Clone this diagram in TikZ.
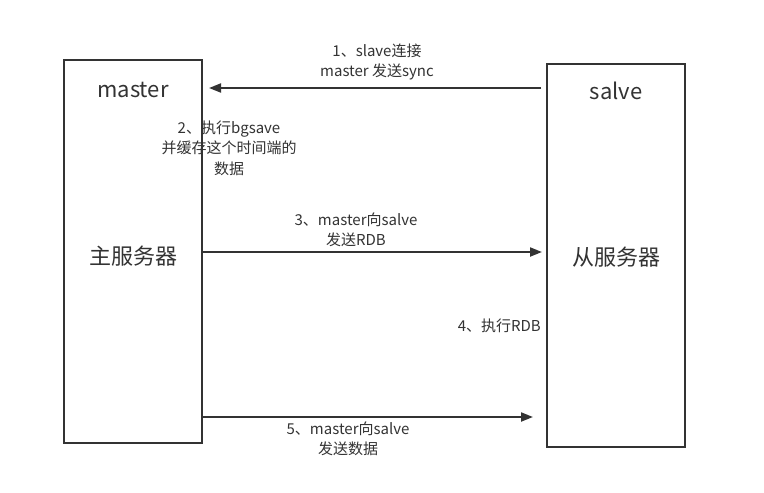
\documentclass[tikz,border=0pt]{standalone}
\usepackage{fontspec}
\setmainfont{Noto Sans CJK SC}
\usetikzlibrary{arrows.meta}
\definecolor{ink}{HTML}{333333}
\begin{document}
\begin{tikzpicture}[x=1pt,y=-1pt,
  box/.style={draw=ink,line width=2pt,inner sep=0pt},
  conn/.style={draw=ink,line width=2pt,-{Triangle[length=12pt,width=9pt]}},
  lbl/.style={text=ink,font=\fontsize{15}{20.5}\selectfont,align=center,inner sep=0pt},
  ttl/.style={text=ink,font=\fontsize{22}{26}\selectfont,inner sep=0pt}]
\useasboundingbox[fill=white] (0,0) rectangle (764,493);
\draw[box] (64,60) rectangle (202,443);
\draw[box] (547,64) rectangle (685,447);
\node[ttl] (mt) at (133,90) {master};
\node[ttl] (st) at (616,91) {salve};
\node[ttl] (mz) at (133,256) {主服务器};
\node[ttl] (sz) at (616,257) {从服务器};
\coordinate (a1s) at (541,88);
\coordinate (a1e) at (209,88);
\coordinate (a3s) at (203,252);
\coordinate (a3e) at (542,252);
\coordinate (a5s) at (203,417);
\coordinate (a5e) at (533,417);
\draw[conn] (a1s) -- (a1e);
\draw[conn] (a3s) -- (a3e);
\draw[conn] (a5s) -- (a5e);
\node[lbl] (l1) at (377,62) {1、slave连接\\master 发送sync};
\node[lbl] (l2) at (229,148) {2、执行bgsave\\并缓存这个时间端的\\数据};
\node[lbl] (l3) at (356,230) {3、master向salve\\发送RDB};
\node[lbl,anchor=east] (l4) at (541,326) {4、执行RDB};
\node[lbl] (l5) at (348,439) {5、master向salve\\发送数据};
\end{tikzpicture}
\end{document}
